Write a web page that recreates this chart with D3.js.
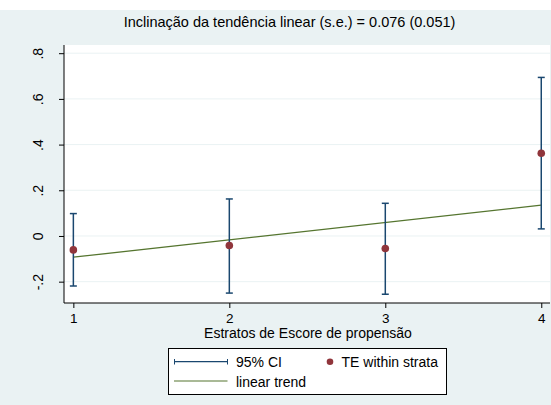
<!DOCTYPE html>
<html><head><meta charset="utf-8">
<script src="https://cdn.jsdelivr.net/npm/d3@7"></script>
<style>body{margin:0;background:#fff}svg{display:block}text{font-family:"Liberation Sans",Arial,sans-serif;fill:#000}</style>
</head><body>
<svg id="c" width="551" height="405"></svg>
<script>
const strata = [1, 2, 3, 4];
const te = [-0.061, -0.042, -0.055, 0.362];
const ciLow = [-0.219, -0.250, -0.255, 0.031];
const ciHigh = [0.098, 0.162, 0.143, 0.694];
const trendStart = -0.093;
const trendSlope = 0.076;
const yTicks = [-0.2, 0, 0.2, 0.4, 0.6, 0.8];
const yTickLabels = ["-.2", "0", ".2", ".4", ".6", ".8"];
const xTicks = [1, 2, 3, 4];
const titleText = "Inclinação da tendência linear (s.e.) = 0.076 (0.051)";
const xTitle = "Estratos de Escore de propensão";
const legendLabels = ["95% CI", "TE within strata", "linear trend"];

const C_CI = "#1a476f", C_DOT = "#90353b", C_TR = "#55752f", BG = "#eaf2f3";
const FS = 14;
const svg = d3.select("#c");
svg.append("rect").attr("x", 0).attr("y", 10).attr("width", 551).attr("height", 395).attr("fill", BG);

const L = 64, R = 550, T = 45, B = 303;
const x = d3.scaleLinear().domain([0.94, 4.056]).range([L, R]);
const y = d3.scaleLinear().domain([-0.2934, 0.8359]).range([B, T]);

svg.append("rect").attr("x", L).attr("y", T).attr("width", R - L).attr("height", B - T).attr("fill", "#fff");
// grid
svg.append("g").selectAll("line").data(yTicks).join("line")
  .attr("x1", L).attr("x2", R).attr("y1", d => y(d)).attr("y2", d => y(d))
  .attr("stroke", BG).attr("stroke-width", 1);

// axes
const yAxis = d3.axisLeft(y).tickValues(yTicks).tickSize(5).tickFormat((d, i) => yTickLabels[i]);
const gy = svg.append("g").attr("transform", `translate(${L},0)`).call(yAxis);
gy.select(".domain").attr("d", `M0,${T}V${B}`).attr("stroke", "#000");
gy.selectAll(".tick line").attr("stroke", "#000");
gy.selectAll(".tick text").attr("font-size", FS).attr("font-family", "Liberation Sans, Arial")
  .attr("transform", "rotate(-90)").attr("x", 0).attr("y", -21).attr("dy", 0).attr("text-anchor", "middle");

const xAxis = d3.axisBottom(x).tickValues(xTicks).tickSize(5).tickFormat(d3.format("d"));
const gx = svg.append("g").attr("transform", `translate(0,${B})`).call(xAxis);
gx.select(".domain").attr("d", `M${L},0H${R}`).attr("stroke", "#000");
gx.selectAll(".tick line").attr("stroke", "#000");
gx.selectAll(".tick text").attr("font-size", 13.5).attr("font-family", "Liberation Sans, Arial").attr("y", 19.5).attr("dy", 0);

// trend line
svg.append("line")
  .attr("x1", x(1)).attr("x2", x(4))
  .attr("y1", y(trendStart)).attr("y2", y(trendStart + 3 * trendSlope))
  .attr("stroke", C_TR).attr("stroke-width", 1.3);

// CIs
const ci = svg.append("g").attr("stroke", C_CI).attr("stroke-width", 1.5).attr("fill", "none");
strata.forEach((s, i) => {
  ci.append("line").attr("x1", x(s)).attr("x2", x(s)).attr("y1", y(ciLow[i])).attr("y2", y(ciHigh[i]));
  ci.append("line").attr("x1", x(s) - 3.5).attr("x2", x(s) + 3.5).attr("y1", y(ciLow[i])).attr("y2", y(ciLow[i]));
  ci.append("line").attr("x1", x(s) - 3.5).attr("x2", x(s) + 3.5).attr("y1", y(ciHigh[i])).attr("y2", y(ciHigh[i]));
});
svg.append("g").selectAll("circle").data(strata).join("circle")
  .attr("cx", d => x(d)).attr("cy", (d, i) => y(te[i])).attr("r", 3.8).attr("fill", C_DOT);

// titles
svg.append("text").attr("x", 289.5).attr("y", 27).attr("text-anchor", "middle").attr("font-size", 14.5).text(titleText);
svg.append("text").attr("x", 308).attr("y", 338).attr("text-anchor", "middle").attr("font-size", FS).text(xTitle);

// legend
const lg = svg.append("g");
lg.append("rect").attr("x", 168.5).attr("y", 348.5).attr("width", 278).attr("height", 46).attr("fill", "#fff").attr("stroke", "#000").attr("stroke-width", 1);
lg.append("line").attr("x1", 174).attr("x2", 227.5).attr("y1", 361.7).attr("y2", 361.7).attr("stroke", C_CI).attr("stroke-width", 1.2);
lg.append("line").attr("x1", 174.5).attr("x2", 174.5).attr("y1", 359).attr("y2", 364.5).attr("stroke", C_CI).attr("stroke-width", 1);
lg.append("line").attr("x1", 227.5).attr("x2", 227.5).attr("y1", 359).attr("y2", 364.5).attr("stroke", C_CI).attr("stroke-width", 1);
lg.append("text").attr("x", 236).attr("y", 367).attr("font-size", FS).text(legendLabels[0]);
lg.append("circle").attr("cx", 330).attr("cy", 361.7).attr("r", 3.3).attr("fill", C_DOT);
lg.append("text").attr("x", 341.5).attr("y", 367).attr("font-size", FS).text(legendLabels[1]);
lg.append("line").attr("x1", 174).attr("x2", 227.5).attr("y1", 381).attr("y2", 381).attr("stroke", C_TR).attr("stroke-width", 1.2);
lg.append("text").attr("x", 236).attr("y", 386.5).attr("font-size", FS).text(legendLabels[2]);
</script>
</body></html>
